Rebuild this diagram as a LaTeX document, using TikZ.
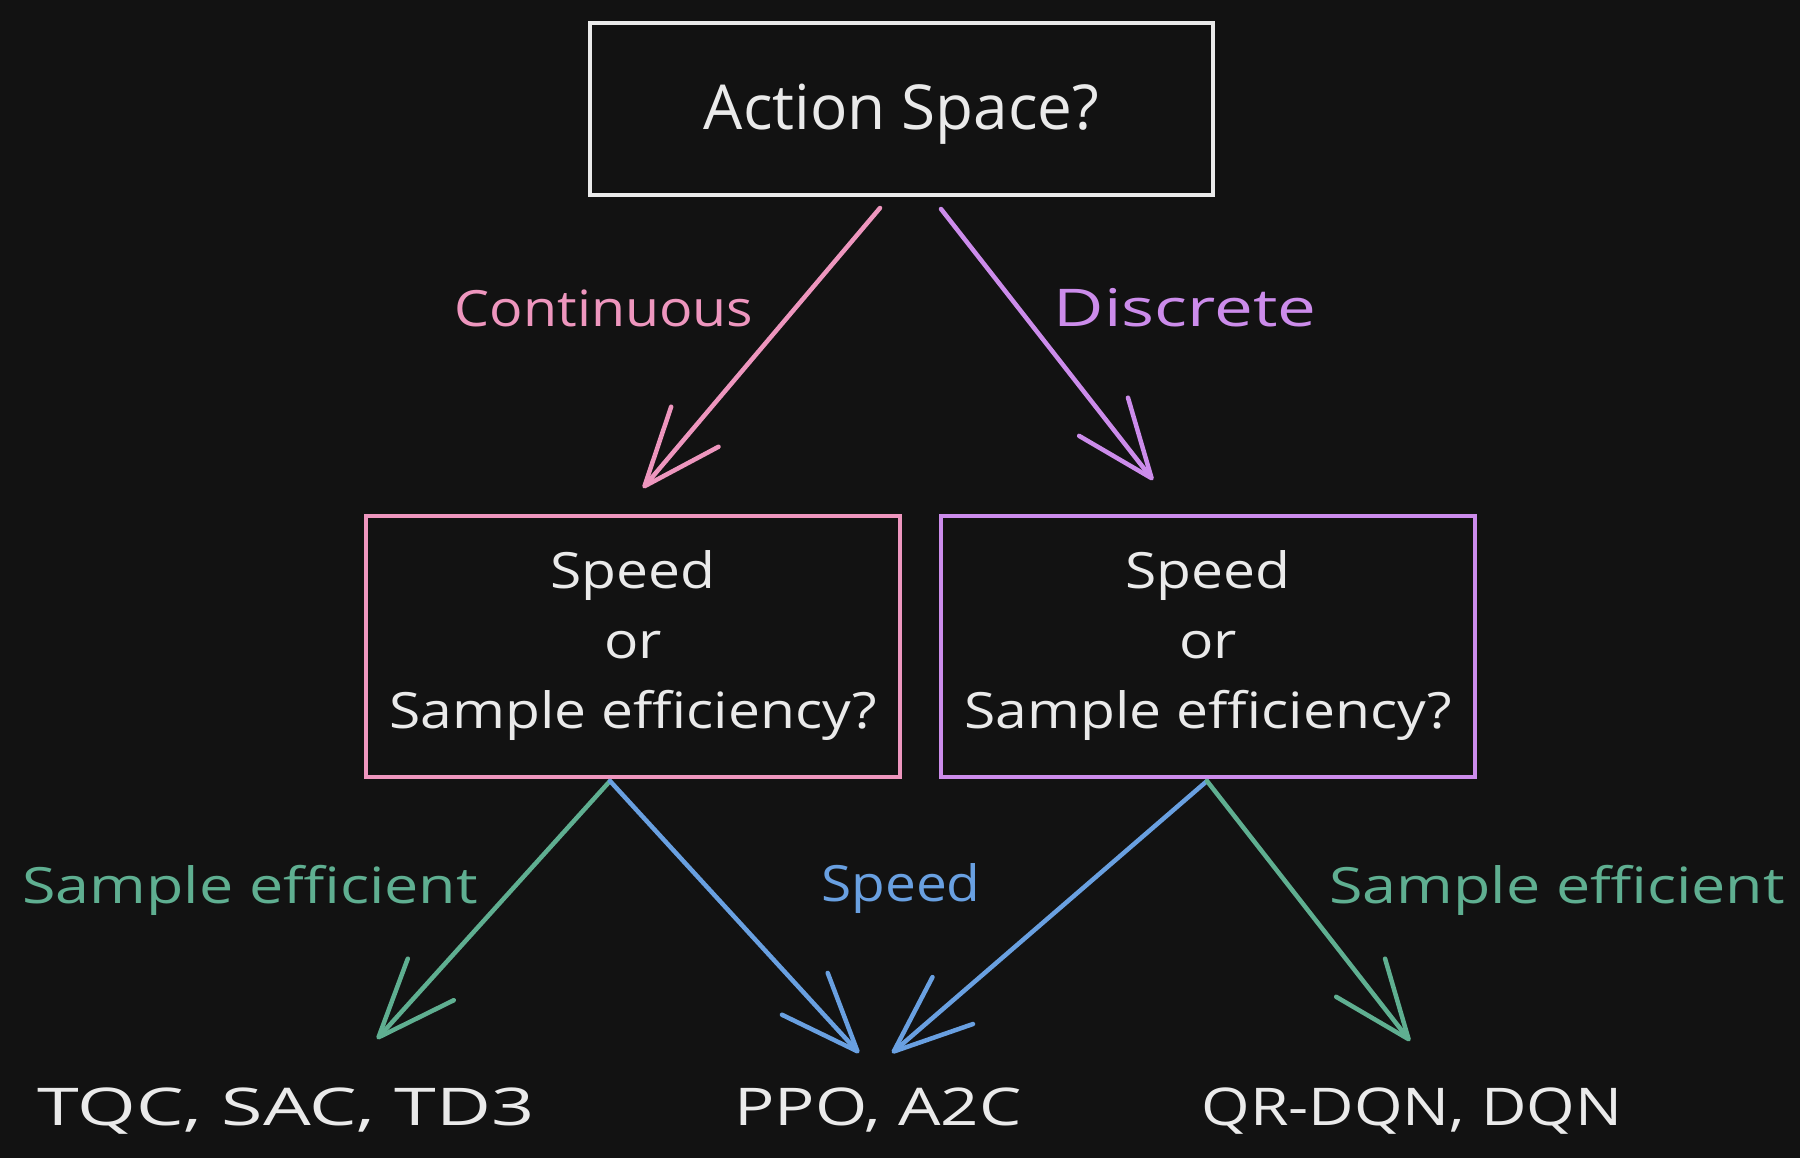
\documentclass[tikz,border=0pt]{standalone}
\usepackage{fontspec}
\setmainfont{Open Sans}
\usetikzlibrary{arrows.meta,calc}
\definecolor{bg}{HTML}{121212}
\definecolor{fg}{HTML}{EAEAEA}
\definecolor{cpink}{HTML}{EE96BE}
\definecolor{cpurple}{HTML}{CC8CEB}
\definecolor{cgreen}{HTML}{5FAF91}
\definecolor{cblue}{HTML}{69A0E1}
\newcommand\hfnt[3]{\fontsize{#1}{#2}\selectfont\addfontfeatures{FakeStretch=#3}}
\begin{document}
\begin{tikzpicture}[x=1pt,y=-1pt,
  box/.style={draw, line width=4pt, inner sep=0pt, text=fg, align=center},
  conn/.style={line width=4.5pt, line cap=round,
    -{Straight Barb[length=78pt,width=62pt,line cap=round,line join=round]}},
  lbl/.style={anchor=base, inner sep=0pt},
  res/.style={anchor=base, text=fg, inner sep=0pt}
]
\fill[bg] (0,0) rectangle (1800,1158);
\useasboundingbox (0,0) rectangle (1800,1158);

% boxes
\node[box, draw=fg, minimum width=623pt, minimum height=172pt,
  text height=46pt, text depth=4pt, font=\hfnt{62}{70}{1.0}] (top) at (901.5,109) {Action Space?};
\node[box, draw=cpink, minimum width=534pt, minimum height=261pt,
  font=\hfnt{50}{70}{1.14}] (cont) at (633,646) {Speed\\or\\Sample efficiency?};
\node[box, draw=cpurple, minimum width=534pt, minimum height=261pt,
  font=\hfnt{50}{70}{1.14}] (disc) at (1208,646) {Speed\\or\\Sample efficiency?};

% results
\node[res, font=\hfnt{52}{60}{1.45}] (r1) at (286,1125) {TQC, SAC, TD3};
\node[res, font=\hfnt{52}{60}{1.29}] (r2) at (878,1125) {PPO, A2C};
\node[res, font=\hfnt{52}{60}{1.2}] (r3) at (1412,1125) {QR-DQN, DQN};

% edge labels
\node[lbl, text=cpink, font=\hfnt{50}{60}{1.11}] (lc) at (604,327) {Continuous};
\node[lbl, text=cpurple, font=\hfnt{52}{60}{1.33}] (ld) at (1185,327) {Discrete};
\node[lbl, text=cgreen, font=\hfnt{50}{60}{1.22}] (ls1) at (250,903) {Sample efficient};
\node[lbl, text=cblue, font=\hfnt{50}{60}{1.1}] (lsp) at (901,901) {Speed};
\node[lbl, text=cgreen, font=\hfnt{50}{60}{1.22}] (ls2) at (1557,903) {Sample efficient};

% connector end points
\coordinate (a1) at ($(top.south)+(-21.5,11)$);
\coordinate (a2) at ($(top.south)+(39.5,12)$);
\coordinate (b1) at ($(cont.north)+(10,-25.5)$);
\coordinate (b2) at ($(disc.north)+(-55,-33.5)$);
\coordinate (p) at ($(cont.south)+(-23,2.5)$);
\coordinate (q) at ($(disc.south)+(-1,2.5)$);
\coordinate (t1) at ($(r1.base)+(91,-86)$);
\coordinate (t2) at ($(r2.base)+(-19,-72)$);
\coordinate (t3) at ($(r2.base)+(14,-72)$);
\coordinate (t4) at ($(r3.base)+(-2,-84)$);

\draw[conn, cpink] (a1) -- (b1);
\draw[conn, cpurple] (a2) -- (b2);
\draw[conn, cgreen] (p) -- (t1);
\draw[conn, cblue] (p) -- (t2);
\draw[conn, cblue] (q) -- (t3);
\draw[conn, cgreen] (q) -- (t4);
\end{tikzpicture}
\end{document}
